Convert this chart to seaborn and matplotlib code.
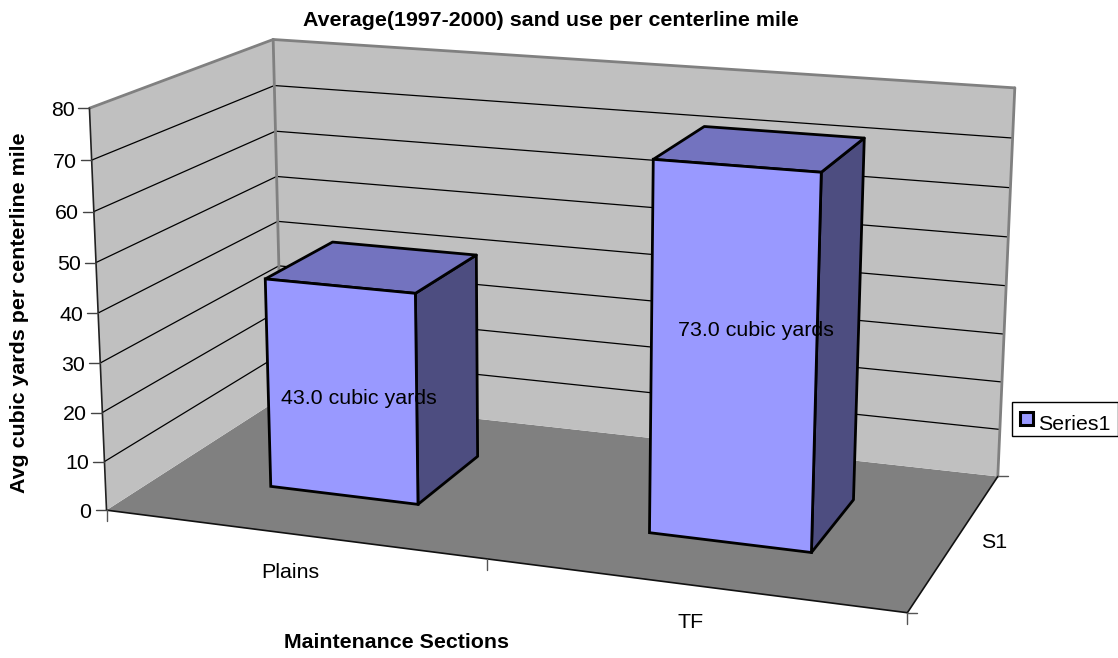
import matplotlib
matplotlib.use('Agg')
import matplotlib.pyplot as plt
import matplotlib.transforms as mtransforms
import numpy as np
import seaborn as sns
from matplotlib.patches import Polygon, Rectangle

# Chart values
sections = ['Plains', 'TF']
sand_use = [43.0, 73.0]
series_name = 'Series1'
depth_label = 'S1'
z_ticks = [0, 10, 20, 30, 40, 50, 60, 70, 80]

title = 'Average(1997-2000) sand use per centerline mile'
x_title = 'Maintenance Sections'
y_title = 'Avg cubic yards per centerline mile'

# Camera calibration: corners of the chart box (section, depth, value) -> pixel
box_3d = np.array([[0, 0, 0], [0, 0, 80], [2, 0, 0], [0, 1, 0], [2, 1, 0],
                   [0, 1, 80], [2, 1, 80], [1, 0, 0], [0, 0, 40]], dtype=float)
box_px = np.array([[107, 510], [89.5, 108], [907, 612], [282, 397], [998, 476],
                   [273, 40], [1015, 88], [487, 561], [98, 312]], dtype=float)

BAR_WIDTH = 0.4
DEPTH_FRONT = 0.3
DEPTH_BACK = 0.7
TEXT_SIZE = 15.4


def fit_camera(pts, px):
    rows = []
    rhs = []
    for (x, y, z), (u, v) in zip(pts, px):
        rows.append([x, y, z, 1, 0, 0, 0, 0, -u * x, -u * y, -u * z])
        rows.append([0, 0, 0, 0, x, y, z, 1, -v * x, -v * y, -v * z])
        rhs += [u, v]
    sol = np.linalg.lstsq(np.array(rows), np.array(rhs), rcond=None)[0]
    return np.append(sol, 1).reshape(3, 4)


CAM = fit_camera(box_3d, box_px)


def project(x, y, z):
    p = CAM @ np.array([x, y, z, 1.0])
    return p[0] / p[2], p[1] / p[2]


class FrontPlane(mtransforms.Transform):
    # bar axes (category position, value) -> pixel, on the front plane of the bars
    input_dims = 2
    output_dims = 2

    def transform_non_affine(self, values):
        values = np.asarray(values, dtype=float)
        return np.array([project(a + 0.5, DEPTH_FRONT, b) for a, b in values])


sns.set_theme(style='white')
plt.rcParams['font.family'] = ['Liberation Sans', 'DejaVu Sans']
plt.rcParams['text.color'] = 'black'

fig, ax = plt.subplots(figsize=(11.18, 6.58), dpi=100)
fig.subplots_adjust(0, 0, 1, 1)

# Front faces come straight from seaborn, then get bent into the 3D view
sns.barplot(x=sections, y=sand_use, width=BAR_WIDTH, color='#9999FF', saturation=1,
            edgecolor='black', linewidth=2, ax=ax)

ax.set_xlim(0, 1118)
ax.set_ylim(658, 0)
ax.axis('off')


def face(corners, color, z, edge='none', lw=0):
    ax.add_patch(Polygon([project(*c) for c in corners], closed=True, facecolor=color,
                         edgecolor=edge, linewidth=lw, zorder=z, joinstyle='round'))


def line(a, b, color='black', lw=1.0, z=2):
    pa, pb = project(*a), project(*b)
    ax.plot([pa[0], pb[0]], [pa[1], pb[1]], color=color, lw=lw, zorder=z,
            solid_capstyle='round')


# floor and walls
face([(0, 0, 0), (2, 0, 0), (2, 1, 0), (0, 1, 0)], '#808080', 1)
face([(0, 0, 0), (0, 1, 0), (0, 1, 80), (0, 0, 80)], '#C0C0C0', 1)
face([(0, 1, 0), (2, 1, 0), (2, 1, 80), (0, 1, 80)], '#C0C0C0', 1)

for tick in z_ticks[1:-1]:
    line((0, 0, tick), (0, 1, tick), lw=0.9)
    line((0, 1, tick), (2, 1, tick), lw=0.9)

line((0, 0, 80), (0, 1, 80), '#808080', 2.0, 3)
line((0, 1, 80), (2, 1, 80), '#808080', 2.0, 3)
line((0, 1, 0), (0, 1, 80), '#808080', 2.0, 3)
line((2, 1, 0), (2, 1, 80), '#808080', 2.0, 3)
line((0, 0, 0), (0, 0, 80), '#222222', 1.2, 3)
line((0, 0, 0), (2, 0, 0), '#111111', 1.2, 3)
line((2, 0, 0), (2, 1, 0), '#111111', 1.2, 3)

# axis ticks
for tick in z_ticks:
    px, py = project(0, 0, tick)
    ax.plot([px - 11, px], [py, py], color='#444444', lw=1.0, zorder=3)
    ax.text(px - 15, py + 2, str(tick), ha='right', va='center', fontsize=TEXT_SIZE)
for pos in range(3):
    px, py = project(pos, 0, 0)
    ax.plot([px, px], [py, py + 11], color='#555555', lw=1.0, zorder=3)
for pos in range(2):
    px, py = project(2, pos, 0)
    ax.plot([px, px + 10], [py, py], color='#555555', lw=1.0, zorder=3)

# sides and tops of the bars, read from the seaborn patches
for bar in ax.patches[:len(sections)]:
    x0 = bar.get_x() + 0.5
    x1 = x0 + bar.get_width()
    h = bar.get_height()
    face([(x1, DEPTH_FRONT, 0), (x1, DEPTH_BACK, 0), (x1, DEPTH_BACK, h), (x1, DEPTH_FRONT, h)],
         '#4D4D80', 5, 'black', 2)
    face([(x0, DEPTH_FRONT, h), (x1, DEPTH_FRONT, h), (x1, DEPTH_BACK, h), (x0, DEPTH_BACK, h)],
         '#7373BF', 5, 'black', 2)
    bar.set_transform(FrontPlane() + ax.transData)
    bar.set_zorder(6)
    bar.set_clip_on(False)

# data labels
label_pos = [(358.5, 399), (756, 330)]
for value, (lx, ly) in zip(sand_use, label_pos):
    ax.text(lx, ly, f'{value:.1f} cubic yards', ha='center', va='center',
            fontsize=TEXT_SIZE, zorder=8)

# category and axis titles
ax.text(290, 572, sections[0], ha='center', va='center', fontsize=TEXT_SIZE)
ax.text(691, 623, sections[1], ha='center', va='center', fontsize=TEXT_SIZE)
ax.text(994.5, 542, depth_label, ha='center', va='center', fontsize=TEXT_SIZE)
ax.text(551, 21, title, ha='center', va='center', fontsize=15.4, fontweight='bold')
ax.text(396, 642, x_title, ha='center', va='center', fontsize=TEXT_SIZE, fontweight='bold')
ax.text(20, 313, y_title, ha='center', va='center', rotation=90, fontsize=TEXT_SIZE, fontweight='bold')

# legend box
ax.add_patch(Rectangle((1012, 401.5), 105.5, 34.5, facecolor='white', edgecolor='black', lw=1, zorder=7))
ax.add_patch(Rectangle((1020, 412), 13, 13, facecolor='#9999FF', edgecolor='black', lw=2.2, zorder=8))
ax.text(1038, 424, series_name, ha='left', va='center', fontsize=TEXT_SIZE, zorder=8)

fig.savefig('out.png', dpi=100)
